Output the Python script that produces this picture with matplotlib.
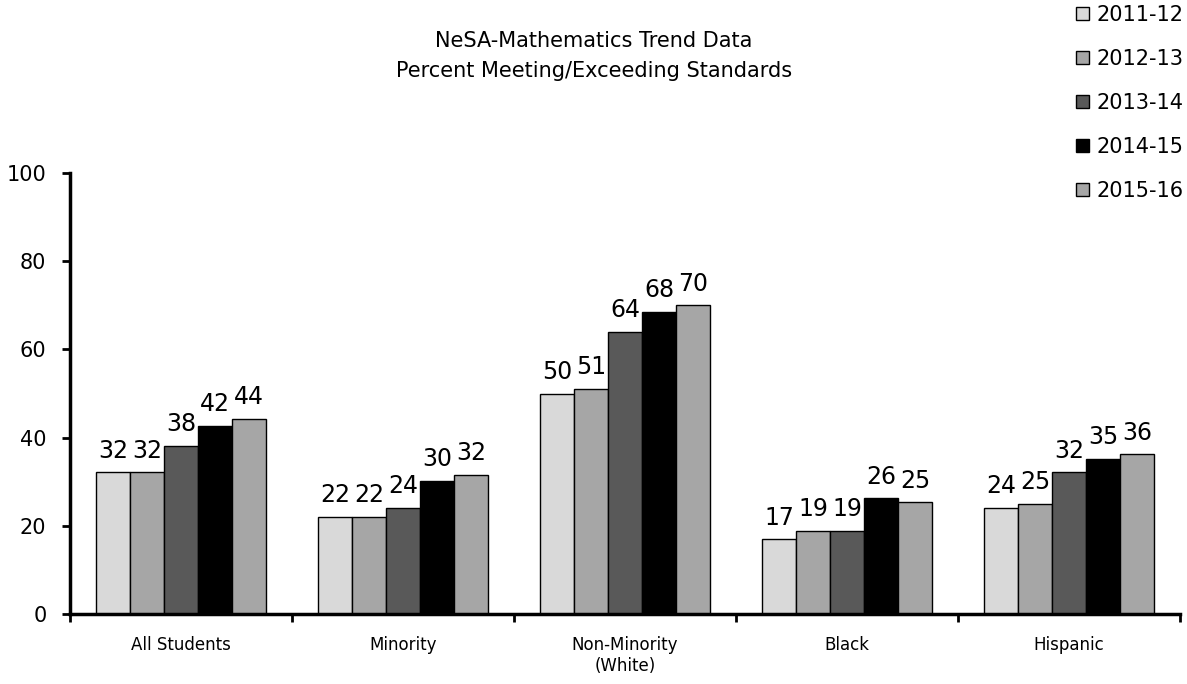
import matplotlib
matplotlib.use("Agg")
import matplotlib.pyplot as plt
import numpy as np

categories = ["All Students", "Minority", "Non-Minority\n(White)", "Black", "Hispanic"]
years = ["2011-12", "2012-13", "2013-14", "2014-15", "2015-16"]
values = {
    "2011-12": [32.1, 22.0, 49.9, 16.9, 24.1],
    "2012-13": [32.1, 22.0, 51.0, 18.9, 24.9],
    "2013-14": [38.2, 24.0, 64.0, 18.9, 32.1],
    "2014-15": [42.6, 30.2, 68.5, 26.2, 35.1],
    "2015-16": [44.2, 31.6, 70.0, 25.3, 36.2],
}
labels = {
    "2011-12": [32, 22, 50, 17, 24],
    "2012-13": [32, 22, 51, 19, 25],
    "2013-14": [38, 24, 64, 19, 32],
    "2014-15": [42, 30, 68, 26, 35],
    "2015-16": [44, 32, 70, 25, 36],
}
colors = ["#d9d9d9", "#a6a6a6", "#595959", "#000000", "#a6a6a6"]
title = "NeSA-Mathematics Trend Data\nPercent Meeting/Exceeding Standards"

plt.rcParams['font.family'] = ['DejaVu Sans']

fig = plt.figure(figsize=(11.87, 6.84), dpi=100)
W, H = 1187, 684
ax = fig.add_axes([70 / W, 1 - 614 / H, (1180 - 70) / W, (614 - 173) / H])

n = len(categories)
x = np.arange(n)
bw = 0.153
for i, yr in enumerate(years):
    pos = x + (i - 2) * bw
    ax.bar(pos, values[yr], width=bw, color=colors[i], edgecolor="black",
           linewidth=1.0, label=yr, zorder=2)
    for xp, v, lab in zip(pos, values[yr], labels[yr]):
        ax.annotate(str(lab), (xp, v), xytext=(0, 7), textcoords="offset points",
                    ha="center", va="bottom", fontsize=17)

ax.set_xlim(-0.5, n - 0.5)
ax.set_ylim(0, 100)
ax.set_yticks([0, 20, 40, 60, 80, 100])
ax.tick_params(axis="y", labelsize=15, length=6, width=2, direction="out", pad=11)
ax.set_xticks(np.arange(n + 1) - 0.5)
ax.set_xticklabels([])
ax.tick_params(axis="x", length=6, width=2, direction="out")
ax.set_xticks(x, minor=True)
ax.set_xticklabels(categories, minor=True, fontsize=12)
ax.tick_params(axis="x", which="minor", length=0, pad=16)
for s in ["top", "right"]:
    ax.spines[s].set_visible(False)
ax.spines["left"].set_linewidth(2.5)
ax.spines["bottom"].set_linewidth(2.5)

fig.text(594 / W, 1 - 56 / H, title, ha="center", va="center", fontsize=15,
         linespacing=1.6)

fig.legend(loc="upper right", bbox_to_anchor=(1.004, 1.005), frameon=False,
           fontsize=15, handlelength=0.63, handleheight=0.63, handletextpad=0.34,
           labelspacing=1.15, borderaxespad=0)

fig.savefig("out.png", dpi=100)
